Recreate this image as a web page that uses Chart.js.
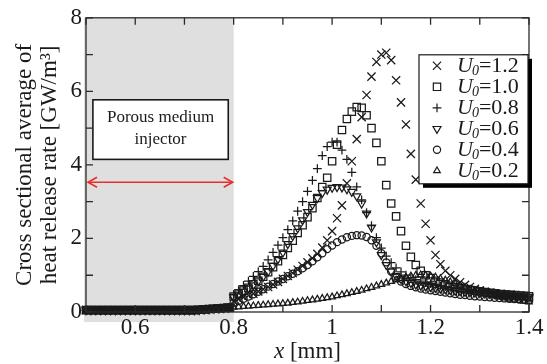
<!DOCTYPE html>
<html>
<head>
<meta charset="utf-8">
<script src="https://cdn.jsdelivr.net/npm/chart.js@4.4.1/dist/chart.umd.min.js"></script>
<style>
  html, body { margin: 0; padding: 0; background: #fff; }
  #wrap { position: relative; width: 547px; height: 364px; }
</style>
</head>
<body>
<div id="wrap"><canvas id="c"></canvas></div>
<script>
// ── data (x in mm, heat release rate in GW/m3) ──────────────
const xs = [
  0.50,0.51,0.52,0.53,0.54,0.55,0.56,0.57,0.58,0.59,
  0.60,0.61,0.62,0.63,0.64,0.65,0.66,0.67,0.68,0.69,
  0.70,0.71,0.72,0.73,0.74,0.75,0.76,0.77,0.78,0.79,
  0.80,0.81,0.82,0.83,0.84,0.85,0.86,0.87,0.88,0.89,
  0.90,0.91,0.92,0.93,0.94,0.95,0.96,0.97,0.98,0.99,
  1.00,1.01,1.02,1.03,1.04,1.05,1.06,1.07,1.08,1.09,
  1.10,1.11,1.12,1.13,1.14,1.15,1.16,1.17,1.18,1.19,
  1.20,1.21,1.22,1.23,1.24,1.25,1.26,1.27,1.28,1.29,
  1.30,1.31,1.32,1.33,1.34,1.35,1.36,1.37,1.38,1.39,
  1.40
];

const u12 = [
  0.05,0.05,0.05,0.05,0.05,0.05,0.05,0.05,0.05,0.05,
  0.05,0.05,0.05,0.05,0.05,0.05,0.05,0.05,0.05,0.05,
  0.05,0.05,0.05,0.06,0.07,0.08,0.09,0.10,0.11,0.12,
  0.30,0.35,0.40,0.45,0.50,0.56,0.62,0.68,0.75,0.82,
  0.90,0.98,1.06,1.15,1.25,1.35,1.46,1.58,1.75,1.95,
  2.20,2.55,2.90,3.50,4.10,4.70,5.30,5.90,6.40,6.80,
  7.00,7.05,6.85,6.30,5.70,5.10,4.30,3.60,2.95,2.40,
  1.95,1.55,1.30,1.12,1.00,0.90,0.81,0.74,0.68,0.63,
  0.59,0.55,0.52,0.49,0.47,0.45,0.43,0.41,0.40,0.38,
  0.37
];
const u10 = [
  0.05,0.05,0.05,0.05,0.05,0.05,0.05,0.05,0.05,0.05,
  0.05,0.05,0.05,0.05,0.05,0.05,0.05,0.05,0.05,0.05,
  0.05,0.05,0.05,0.06,0.07,0.08,0.09,0.10,0.11,0.12,
  0.42,0.50,0.58,0.66,0.75,0.85,0.96,1.08,1.22,1.38,
  1.55,1.74,1.94,2.15,2.36,2.58,2.82,3.10,3.40,3.65,
  4.10,4.55,4.95,5.25,5.45,5.57,5.55,5.35,5.00,4.60,
  4.10,3.45,2.95,2.60,2.20,1.80,1.50,1.28,1.12,1.00,
  0.92,0.85,0.80,0.75,0.71,0.68,0.65,0.62,0.60,0.58,
  0.56,0.54,0.52,0.51,0.49,0.48,0.47,0.46,0.45,0.44,
  0.43
];
const u08 = [
  0.05,0.05,0.05,0.05,0.05,0.05,0.05,0.05,0.05,0.05,
  0.05,0.05,0.05,0.05,0.05,0.05,0.05,0.05,0.05,0.05,
  0.05,0.05,0.05,0.06,0.07,0.08,0.09,0.10,0.11,0.12,
  0.48,0.60,0.72,0.84,0.97,1.10,1.24,1.42,1.62,1.82,
  2.02,2.24,2.48,2.74,3.00,3.28,3.58,3.90,4.25,4.50,
  4.62,4.62,4.40,4.15,3.80,3.40,3.05,2.70,2.35,2.02,
  1.74,1.52,1.34,1.20,1.09,1.00,0.93,0.88,0.84,0.80,
  0.77,0.74,0.71,0.69,0.67,0.65,0.63,0.61,0.59,0.57,
  0.56,0.54,0.53,0.52,0.50,0.49,0.48,0.47,0.46,0.45,
  0.44
];
const u06 = [
  0.05,0.05,0.05,0.05,0.05,0.05,0.05,0.05,0.05,0.05,
  0.05,0.05,0.05,0.05,0.05,0.05,0.05,0.05,0.05,0.05,
  0.05,0.05,0.05,0.06,0.07,0.08,0.09,0.10,0.11,0.12,
  0.40,0.48,0.56,0.64,0.73,0.84,0.96,1.10,1.26,1.44,
  1.62,1.85,2.07,2.28,2.50,2.72,2.92,3.10,3.24,3.33,
  3.38,3.40,3.39,3.34,3.27,3.15,2.95,2.68,2.30,1.90,
  1.55,1.28,1.10,0.98,0.90,0.84,0.79,0.75,0.72,0.70,
  0.68,0.66,0.64,0.62,0.60,0.58,0.57,0.55,0.54,0.53,
  0.52,0.51,0.50,0.49,0.48,0.47,0.46,0.45,0.44,0.43,
  0.42
];
const u04 = [
  0.05,0.05,0.05,0.05,0.05,0.05,0.05,0.05,0.05,0.05,
  0.05,0.05,0.05,0.05,0.05,0.05,0.05,0.05,0.05,0.05,
  0.05,0.05,0.05,0.06,0.07,0.08,0.09,0.10,0.11,0.12,
  0.25,0.30,0.36,0.42,0.48,0.55,0.62,0.69,0.76,0.83,
  0.90,0.97,1.04,1.11,1.19,1.28,1.38,1.49,1.60,1.71,
  1.81,1.90,1.97,2.03,2.07,2.09,2.08,2.04,1.95,1.80,
  1.60,1.35,1.10,0.93,0.83,0.76,0.71,0.67,0.64,0.61,
  0.59,0.57,0.55,0.53,0.51,0.49,0.47,0.46,0.44,0.43,
  0.42,0.41,0.40,0.39,0.38,0.37,0.36,0.35,0.34,0.33,
  0.32
];
const u02 = [
  0.04,0.04,0.04,0.04,0.04,0.04,0.04,0.04,0.04,0.04,
  0.04,0.04,0.04,0.04,0.04,0.04,0.04,0.04,0.04,0.04,
  0.04,0.04,0.05,0.05,0.06,0.07,0.08,0.09,0.10,0.11,
  0.13,0.14,0.15,0.16,0.17,0.18,0.19,0.20,0.21,0.22,
  0.23,0.24,0.26,0.27,0.29,0.31,0.33,0.35,0.37,0.39,
  0.41,0.44,0.47,0.50,0.53,0.56,0.59,0.63,0.67,0.71,
  0.75,0.79,0.83,0.87,0.91,0.95,0.98,1.00,1.01,1.00,
  0.98,0.95,0.91,0.87,0.82,0.77,0.72,0.67,0.62,0.58,
  0.54,0.50,0.47,0.44,0.41,0.38,0.35,0.33,0.31,0.29,
  0.27
];

const seriesLabels = ["1.2", "1.0", "0.8", "0.6", "0.4", "0.2"];
const seriesValues = [u12, u10, u08, u06, u04, u02];

const xTickLabels = ["0.6", "0.8", "1", "1.2", "1.4"];
const yTickLabels = ["0", "2", "4", "6", "8"];

// porous medium region and its annotation (data units)
const porousFrom = 0.5, porousTo = 0.8;
const noteBox = { x0: 0.514, x1: 0.789, yTop: 5.77, yBot: 4.15 };
const noteLines = ["Porous medium", "injector"];
const arrowY = 3.53;

// ── styles ────────────────────────────────────────────────
const INK = "#1a1a1a";
const SERIF = "'Liberation Serif', 'DejaVu Serif', serif";
const markers = [
  { pointStyle: "crossRot", radius: 5.8, rotation: 0 },
  { pointStyle: "rect",     radius: 5.2, rotation: 0 },
  { pointStyle: "cross",    radius: 4.4, rotation: 0 },
  { pointStyle: "triangle", radius: 4.6, rotation: 180 },
  { pointStyle: "circle",   radius: 3.6, rotation: 0 },
  { pointStyle: "triangle", radius: 3.8, rotation: 0 },
];

const datasets = seriesValues.map((vals, i) => ({
  label: "U0=" + seriesLabels[i],
  data: xs.map((x, j) => ({ x, y: vals[j] })),
  showLine: false,
  pointStyle: markers[i].pointStyle,
  pointRadius: markers[i].radius,
  pointRotation: markers[i].rotation,
  pointBorderColor: INK,
  pointBackgroundColor: "rgba(0,0,0,0)",
  pointBorderWidth: 1.25,
  clip: false,
}));

// ── plugins ───────────────────────────────────────────────
const porousBg = {
  id: "porousBg",
  beforeDraw(c) {
    const { ctx, chartArea, scales } = c;
    const l = scales.x.getPixelForValue(porousFrom);
    const r = scales.x.getPixelForValue(porousTo);
    ctx.save();
    ctx.fillStyle = "#dfdfdf";
    ctx.fillRect(l - 2, chartArea.top, r - l + 2, chartArea.bottom - chartArea.top + 10);
    ctx.restore();
  },
  beforeDatasetsDraw(c) {
    const { ctx, scales } = c;
    const x = scales.x, y = scales.y;
    // note box
    const bx0 = x.getPixelForValue(noteBox.x0), bx1 = x.getPixelForValue(noteBox.x1);
    const by0 = y.getPixelForValue(noteBox.yTop), by1 = y.getPixelForValue(noteBox.yBot);
    ctx.save();
    ctx.fillStyle = "#fff";
    ctx.fillRect(bx0, by0, bx1 - bx0, by1 - by0);
    ctx.strokeStyle = INK; ctx.lineWidth = 1.6;
    ctx.strokeRect(bx0, by0, bx1 - bx0, by1 - by0);
    ctx.fillStyle = INK;
    ctx.font = "17px " + SERIF;
    ctx.textAlign = "center"; ctx.textBaseline = "middle";
    const cx = (bx0 + bx1) / 2, h = by1 - by0;
    ctx.fillText(noteLines[0], cx, by0 + h * 0.30);
    ctx.fillText(noteLines[1], cx, by0 + h * 0.66);
    // red double arrow
    const ax0 = x.getPixelForValue(porousFrom) + 2, ax1 = x.getPixelForValue(porousTo) - 1;
    const ay = y.getPixelForValue(arrowY);
    ctx.strokeStyle = "#e8302a"; ctx.lineWidth = 1.6;
    ctx.beginPath(); ctx.moveTo(ax0, ay); ctx.lineTo(ax1, ay); ctx.stroke();
    ctx.beginPath();
    ctx.moveTo(ax0 + 9, ay - 5); ctx.lineTo(ax0, ay); ctx.lineTo(ax0 + 9, ay + 5);
    ctx.moveTo(ax1 - 9, ay - 5); ctx.lineTo(ax1, ay); ctx.lineTo(ax1 - 9, ay + 5);
    ctx.stroke();
    ctx.restore();
  },
};

const frameTicks = {
  id: "frameTicks",
  afterDraw(c) {
    const { ctx, chartArea: a, scales } = c;
    ctx.save();
    ctx.strokeStyle = "#2a2a2a"; ctx.lineWidth = 1.3;
    ctx.strokeRect(a.left, a.top, a.right - a.left, a.bottom - a.top);
    const tl = 7;
    ctx.beginPath();
    for (let k = 5; k <= 14; k++) {
      const px = scales.x.getPixelForValue(k / 10);
      ctx.moveTo(px, a.bottom); ctx.lineTo(px, a.bottom - tl);
      ctx.moveTo(px, a.top); ctx.lineTo(px, a.top + tl);
    }
    for (let k = 0; k <= 8; k++) {
      const py = scales.y.getPixelForValue(k);
      ctx.moveTo(a.left, py); ctx.lineTo(a.left + tl, py);
      ctx.moveTo(a.right, py); ctx.lineTo(a.right - tl, py);
    }
    ctx.stroke();

    // x axis title: italic x + " [mm]"
    ctx.fillStyle = INK;
    ctx.textBaseline = "middle"; ctx.textAlign = "left";
    const fi = "italic 23px " + SERIF, fn = "23px " + SERIF;
    ctx.font = fi; const w1 = ctx.measureText("x").width;
    ctx.font = fn; const w2 = ctx.measureText(" [mm]").width;
    const tx = (a.left + a.right) / 2 - (w1 + w2) / 2, ty = a.bottom + 40;
    ctx.font = fi; ctx.fillText("x", tx, ty);
    ctx.font = fn; ctx.fillText(" [mm]", tx + w1, ty);

    drawLegend(c);
    ctx.restore();
  },
};

function drawLegend(c) {
  const { ctx, chartArea: a } = c;
  const w = 109, h = 129;
  const x = a.right - w - 1, y = a.top + 37;
  ctx.save();
  ctx.fillStyle = "#000";
  ctx.fillRect(x + 4, y + 4, w, h);
  ctx.fillStyle = "#fff";
  ctx.fillRect(x, y, w, h);
  ctx.strokeStyle = INK; ctx.lineWidth = 1.2;
  ctx.strokeRect(x, y, w, h);
  seriesLabels.forEach((lab, i) => {
    const ry = y + 11 + i * 21;
    ctx.strokeStyle = INK; ctx.fillStyle = "rgba(0,0,0,0)";
    Chart.helpers.drawPoint(ctx, {
      pointStyle: markers[i].pointStyle, radius: markers[i].radius,
      rotation: markers[i].rotation, borderWidth: 1.25,
    }, x + 18, ry);
    ctx.fillStyle = INK; ctx.textBaseline = "middle"; ctx.textAlign = "left";
    let tx = x + 38;
    ctx.font = "italic 22px " + SERIF; ctx.fillText("U", tx, ry);
    tx += ctx.measureText("U").width;
    ctx.font = "italic 14px " + SERIF; ctx.fillText("0", tx - 1, ry + 6);
    tx += ctx.measureText("0").width - 1;
    ctx.font = "22px " + SERIF; ctx.fillText("=" + lab, tx, ry);
  });
  ctx.restore();
}

// ── chart ─────────────────────────────────────────────────
new Chart(document.getElementById("c"), {
  type: "scatter",
  data: { datasets },
  options: {
    responsive: true, maintainAspectRatio: false,
    animation: false,
    layout: { padding: { top: 15, right: 18, left: 0, bottom: 0 } },
    plugins: { legend: { display: false }, tooltip: { enabled: false } },
    scales: {
      x: {
        type: "linear", min: 0.5, max: 1.4,
        grid: { display: false, drawTicks: false },
        border: { display: false },
        ticks: {
          stepSize: 0.1, autoSkip: false, maxRotation: 0, padding: 2,
          color: INK, font: { family: SERIF, size: 23 },
          callback: (v) => {
            const s = String(Number(v.toFixed(1)));
            return xTickLabels.includes(s) ? s : "";
          },
        },
        afterFit: (s) => { s.height = 52; },
      },
      y: {
        min: 0, max: 8,
        grid: { display: false, drawTicks: false },
        border: { display: false },
        ticks: {
          stepSize: 2, padding: 4,
          color: INK, font: { family: SERIF, size: 23 },
          callback: (v) => yTickLabels.includes(String(v)) ? String(v) : "",
        },
        title: {
          display: true,
          text: ["Cross sectional average of", "heat release rate [GW/m\u00b3]"],
          color: INK, font: { family: SERIF, size: 23, lineHeight: 1.1 },
          padding: { top: 12, bottom: 0 },
        },
        afterFit: (s) => { s.width = 86; },
      },
    },
  },
  plugins: [porousBg, frameTicks],
});
</script>
</body>
</html>
